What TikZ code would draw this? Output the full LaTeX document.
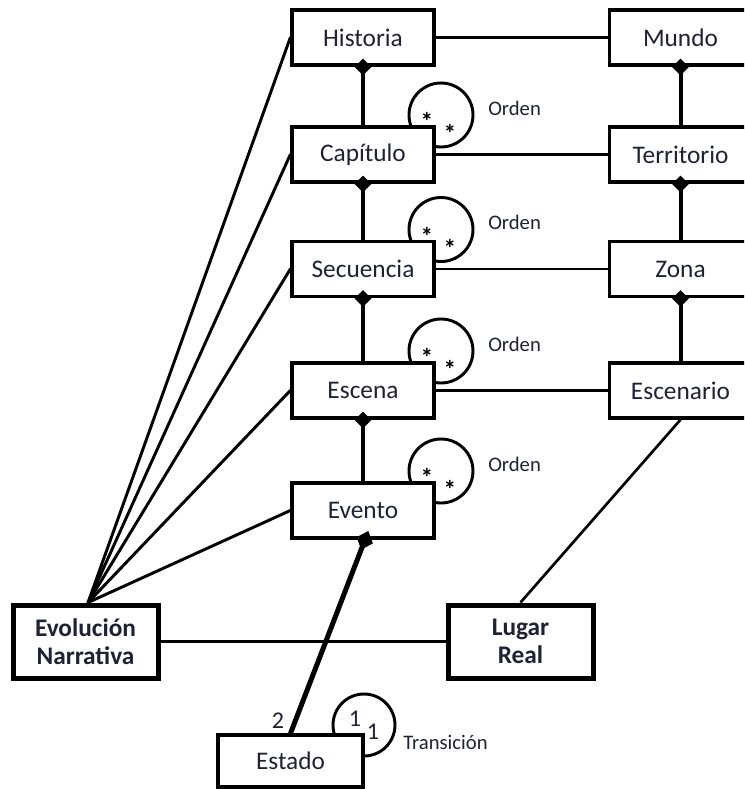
\documentclass[tikz,border=0pt]{standalone}
\usepackage{fontspec}
\setmainfont{Carlito}
\usetikzlibrary{arrows.meta}
\definecolor{ink}{HTML}{1E2233}
\tikzset{
  cls/.style={draw=black, fill=white, line width=2.5pt, minimum width=106.5pt,
    minimum height=41.25pt, inner sep=0pt, text=ink, font=\fontsize{19}{23}\selectfont},
  root/.style={cls, line width=3.75pt, minimum width=108.75pt, minimum height=54.75pt,
    align=center, font=\fontsize{19}{21}\selectfont\bfseries},
  statebox/.style={cls, minimum width=108.75pt, minimum height=39pt},
  link/.style={line width=2pt},
  fan/.style={line width=2.2pt},
  compose/.style={line width=3pt, -{Diamond[length=12.5pt,width=12.5pt]}, shorten >=-6pt},
  heavycompose/.style={line width=3.75pt, -{Diamond[length=15pt,width=13pt]}, shorten >=-7pt},
  loopring/.style={line width=2.2pt},
  lbl/.style={text=ink, inner sep=0pt, font=\fontsize{15.5}{18}\selectfont},
  mult/.style={text=ink, inner sep=0pt, font=\fontsize{18}{20}\selectfont},
  star/.style={text=black, inner sep=0pt, font=\fontsize{19}{20}\selectfont\bfseries}
}
\begin{document}
\begin{tikzpicture}[x=0.75pt, y=-0.75pt]
\clip (0,0) rectangle (744,789);
\fill[white] (0,0) rectangle (744,789);

% self-association rings (boxes drawn afterwards hide the inner part)
\foreach \cy in {154.5, 269, 390.5, 510.5}{
  \draw[loopring] (441,\cy-39.5) circle[radius=24pt];
}
\draw[loopring] (364,725) circle[radius=23.25pt];

% narrative hierarchy
\node[cls] (hist) at (363,37.5)  {Historia};
\node[cls] (cap)  at (363,154.5) {Capítulo};
\node[cls] (sec)  at (363,269)   {Secuencia};
\node[cls] (esc)  at (363,390.5) {Escena};
\node[cls] (eve)  at (363,510.5) {Evento};

% spatial hierarchy
\node[cls] (mun)  at (680.5,37.5)  {Mundo};
\node[cls] (ter)  at (680.5,154.5) {Territorio};
\node[cls] (zon)  at (680.5,269)   {Zona};
\node[cls] (scn)  at (680.5,390.5) {Escenario};

% roots and state
\node[root] (evo) at (85.5,641.5)  {Evolución\\Narrativa};
\node[root] (lug) at (520.5,641.5) {Lugar\\Real};
\node[statebox] (est) at (290.5,761) {Estado};

% composition links
\draw[compose] (cap.north) -- (hist.south);
\draw[compose] (sec.north) -- (cap.south);
\draw[compose] (esc.north) -- (sec.south);
\draw[compose] (eve.north) -- (esc.south);
\draw[compose] (ter.north) -- (mun.south);
\draw[compose] (zon.north) -- (ter.south);
\draw[compose] (scn.north) -- (zon.south);
\draw[heavycompose] (est.north) -- ([xshift=1.5pt]eve.south);

% horizontal associations
\draw[link] (hist.east) -- (mun.west);
\draw[link] (cap.east) -- (ter.west);
\draw[link] (sec.east) -- (zon.west);
\draw[link] (esc.east) -- (scn.west);
\draw[link] (evo.east) -- (lug.west);
\draw[link] (scn.south) -- (lug.north);

% fan from the narrative root
\coordinate (evotop) at ([xshift=1.9pt]evo.north);
\foreach \n in {hist,cap,sec,esc,eve}{
  \draw[fan, line cap=round] (evotop) -- (\n.west);
}

% ring labels
\foreach \cy in {154.5, 269, 390.5, 510.5}{
  \node[lbl, anchor=west] at (488,\cy-46.5) {Orden};
  \node[star] at (427,\cy-33) {*};
  \node[star] at (450,\cy-21) {*};
}
\node[mult] at (278,721) {2};
\node[mult] at (355,719) {1};
\node[mult] at (373,732) {1};
\node[lbl, anchor=west] at (403,742) {Transición};
\end{tikzpicture}
\end{document}
